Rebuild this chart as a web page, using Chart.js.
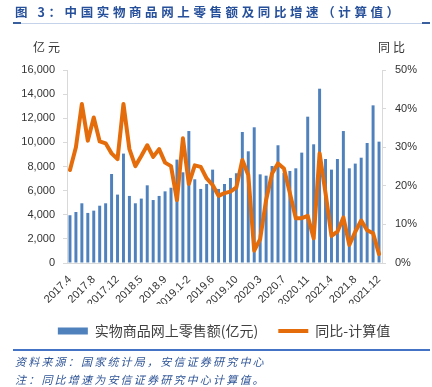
<!DOCTYPE html>
<html><head><meta charset="utf-8">
<script src="https://cdn.jsdelivr.net/npm/chart.js@4/dist/chart.umd.min.js"></script>
<style>
body{margin:0;width:432px;height:387px;background:#fff;position:relative;overflow:hidden;font-family:"Noto Sans CJK SC",sans-serif;}
#title{position:absolute;left:15px;top:3px;font-size:12.5px;font-weight:bold;color:#27509B;letter-spacing:3.6px;line-height:18px;white-space:nowrap;}
#tline{position:absolute;left:13px;top:23px;width:417px;height:1px;background:#C5D3EA;}
.tmark{position:absolute;top:22px;height:2px;width:8px;background:#3A5F9E;}
#wrap{position:absolute;left:0;top:0;width:432px;height:387px;}
.axt{position:absolute;top:39px;font-size:12px;color:#333;letter-spacing:3px;line-height:16px;}
#bline{position:absolute;left:13px;top:349px;width:417px;height:2px;background:#4472C4;}
.src{position:absolute;left:15px;font-size:11px;font-style:italic;color:#2F5597;letter-spacing:2.2px;line-height:14px;white-space:nowrap;}
</style>
</head><body>
<div id="wrap"><canvas id="c" width="432" height="387"></canvas></div>
<div id="title">图 3：中国实物商品网上零售额及同比增速（计算值）</div>
<div id="tline"></div>
<div class="tmark" style="left:13px"></div>
<div class="tmark" style="left:422px"></div>
<div class="axt" style="left:33px">亿元</div>
<div class="axt" style="left:378px">同比</div>
<div id="bline"></div>
<div class="src" style="top:354px">资料来源：国家统计局，安信证券研究中心</div>
<div class="src" style="top:372px">注：同比增速为安信证券研究中心计算值。</div>
<script>
const categories = [
 '2017.4','2017.5','2017.6','2017.7','2017.8','2017.9','2017.10','2017.11','2017.12',
 '2018.1-2','2018.3','2018.4','2018.5','2018.6','2018.7','2018.8','2018.9','2018.10','2018.11','2018.12',
 '2019.1-2','2019.3','2019.4','2019.5','2019.6','2019.7','2019.8','2019.9','2019.10','2019.11','2019.12',
 '2020.1-2','2020.3','2020.4','2020.5','2020.6','2020.7','2020.8','2020.9','2020.10','2020.11','2020.12',
 '2021.1-2','2021.3','2021.4','2021.5','2021.6','2021.7','2021.8','2021.9','2021.10','2021.11','2021.12'
];
const tickLabels = ['2017.4','2017.8','2017.12','2018.5','2018.9','2019.1-2','2019.6','2019.10','2020.3','2020.7','2020.11','2021.4','2021.8','2021.12'];
const salesValues = [
 3960,4230,4950,4150,4340,4750,4950,7380,5670,
 9070,5560,4950,5340,6440,5220,5560,5940,6240,8570,7520,
 10940,6940,6140,6550,7740,6140,6550,7050,7440,10860,9260,
 11250,7350,7240,8040,9760,7460,7630,7850,9150,12130,9840,
 14450,8620,7740,8620,10940,7850,8240,8730,9950,13070,10060
];
const yoyValues = [
 24.1,30.0,41.2,31.7,37.7,31.5,31.0,28.4,26.9,
 41.2,29.5,25.1,27.7,30.5,27.5,29.5,26.0,25.1,16.3,32.3,
 20.5,25.3,24.9,21.9,20.2,17.4,18.1,18.5,19.6,26.7,22.8,
 3.2,6.2,16.3,23.2,25.8,24.5,18.1,11.6,11.6,12.2,6.4,
 28.4,18.1,7.0,8.1,11.8,4.7,8.1,11.0,8.5,7.7,2.3
];
const seriesNames = ['实物商品网上零售额(亿元)','同比-计算值'];
const barColor = '#4F81BD', lineColor = '#E46C0A';

const numFont = {family:'"Liberation Sans", Arial, sans-serif', size:11};
new Chart(document.getElementById('c'), {
  type:'bar',
  data:{
    labels:categories,
    datasets:[
      {type:'bar',label:seriesNames[0],data:salesValues,backgroundColor:barColor,borderWidth:0,
       barPercentage:0.5,categoryPercentage:1,yAxisID:'y',order:2},
      {type:'line',label:seriesNames[1],data:yoyValues,borderColor:lineColor,backgroundColor:lineColor,
       borderWidth:4,pointRadius:0,tension:0,yAxisID:'y1',order:1,borderJoinStyle:'round',borderCapStyle:'round'}
    ]
  },
  options:{
    responsive:false,animation:false,devicePixelRatio:1,
    layout:{padding:{top:70,left:16,right:0,bottom:39}},
    plugins:{
      tooltip:{enabled:false},
      legend:{position:'bottom',
        labels:{usePointStyle:true,pointStyleWidth:30,boxHeight:7,padding:20,color:'#404040',
          font:{family:'"Noto Sans CJK SC", sans-serif',size:14},
          generateLabels(chart){
            const items = Chart.defaults.plugins.legend.labels.generateLabels(chart);
            items.sort((a,b)=>a.datasetIndex-b.datasetIndex);
            items.forEach(it=>{
              if(it.datasetIndex===0){it.pointStyle='rect';it.lineWidth=0;it.fillStyle=barColor;}
              else {it.pointStyle='line';it.lineWidth=4;it.strokeStyle=lineColor;}
            });
            return items;
          }}}
    },
    scales:{
      x:{offset:true,grid:{display:false},border:{color:'#D9D9D9'},
        ticks:{autoSkip:false,minRotation:45,maxRotation:45,color:'#333',font:numFont,padding:2,
          callback:(v,i)=>tickLabels.includes(categories[i])?categories[i]:''},
        afterFit(s){s.height=41;}},
      y:{position:'left',min:0,max:16000,
        ticks:{stepSize:2000,color:'#333',font:numFont,padding:8},
        grid:{drawOnChartArea:false,color:'#D9D9D9',tickLength:4},border:{color:'#D9D9D9'},
        afterFit(s){s.width=51;}},
      y1:{position:'right',min:0,max:50,
        ticks:{stepSize:10,color:'#333',font:numFont,padding:9,callback:v=>v+'%'},
        grid:{drawOnChartArea:false,color:'#D9D9D9',tickLength:4},border:{color:'#D9D9D9'},
        afterFit(s){s.width=50;}}
    }
  }
});
</script>
</body></html>
